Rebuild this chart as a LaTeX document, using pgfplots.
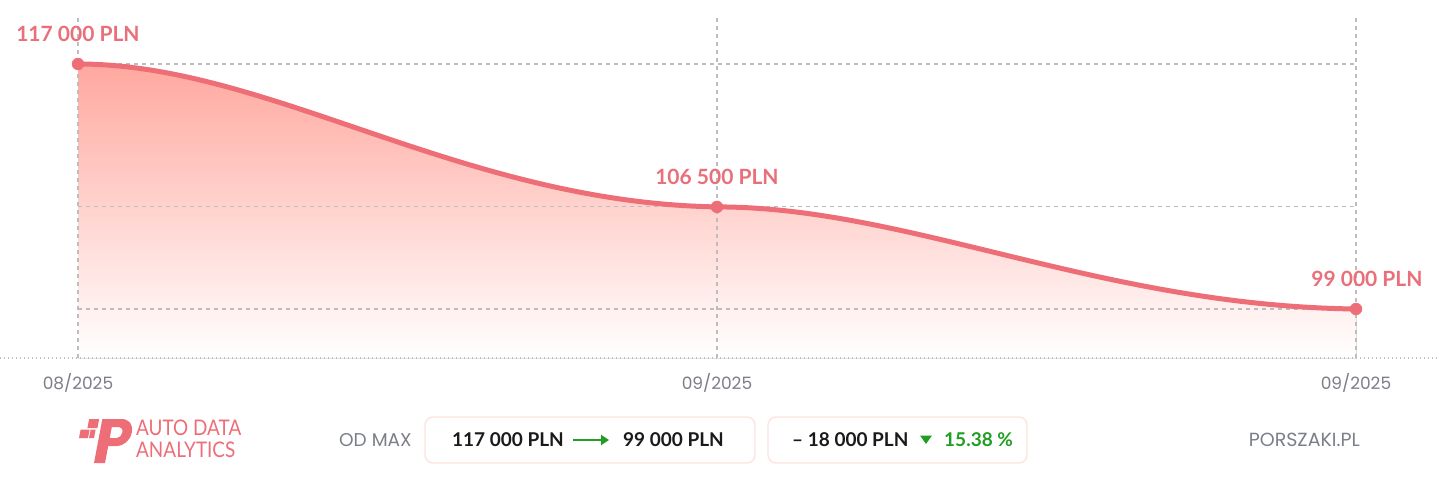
\documentclass[border=0pt]{standalone}
\usepackage{pgfplots}
\pgfplotsset{compat=1.18}
\usepackage{pgfplotstable}
\usetikzlibrary{arrows.meta,calc}
\usepackage{fontspec}
\setmainfont{Lato}
\newfontfamily\pop{Poppins}
\definecolor{lc}{HTML}{EE6E78}
\definecolor{labc}{HTML}{E9707A}
\definecolor{fillc}{HTML}{FFA89F}
\definecolor{gridc}{HTML}{BDBDBD}
\definecolor{tickc}{HTML}{7C7F8A}
\definecolor{boxc}{HTML}{FBE2DF}
\definecolor{grn}{HTML}{1F9E22}
\definecolor{txt}{HTML}{1A1A1A}
\pgfdeclarelayer{bgw}
\pgfdeclarelayer{bg}
\pgfsetlayers{bgw,bg,main}

\pgfplotstableread{
x y
0 117000
1 106500
2 99000
}\pricedata

\begin{document}
\begin{tikzpicture}[x=1pt,y=1pt]
\begin{pgfonlayer}{bgw}
\fill[white] (0,0) rectangle (1440,496);
\end{pgfonlayer}
\begin{axis}[
  name=ax,
  at={(78pt,138pt)}, anchor=south west,
  scale only axis, width=1278pt, height=343pt,
  xmin=0, xmax=2, ymin=95400, ymax=120600,
  clip=false,
  axis line style={draw=none},
  major tick length=0pt,
  scaled y ticks=false,
  xtick={0,1,2},
  xticklabels={08/2025,09/2025,09/2025},
  ytick=\empty,
  xticklabel style={font=\pop\fontsize{17}{17}\selectfont, text=tickc, anchor=center, yshift=-25pt},
  grd/.style={gridc, line width=1.1pt, dash pattern=on 4pt off 4pt, forget plot},
]
% grid
\addplot[grd] coordinates {(0,117000) (2,117000)};
\addplot[grd] coordinates {(0,106500) (2,106500)};
\addplot[grd] coordinates {(0,99000) (2,99000)};
\addplot[grd] coordinates {(0,95400) (0,120600)};
\addplot[grd] coordinates {(1,95400) (1,120600)};
\addplot[grd] coordinates {(2,95400) (2,120600)};
% anchor points of the data (named for the curve)
\addplot[draw=none, mark=none, nodes near coords={},
  every node near coord/.append style={name=pt\coordindex, anchor=center, inner sep=0pt, minimum size=0pt, yshift=0pt}]
  table[x=x,y=y] {\pricedata};
\addplot[only marks, mark=*, mark size=6pt, lc,
  nodes near coords, point meta=explicit symbolic,
  every node near coord/.append style={anchor=center, yshift=30pt, text=labc, font=\fontsize{21}{21}\selectfont\bfseries}]
  coordinates {(0,117000) [117 000 PLN] (1,106500) [106 500 PLN]};
\addplot[only marks, mark=*, mark size=6pt, lc,
  nodes near coords, point meta=explicit symbolic,
  every node near coord/.append style={anchor=center, yshift=30pt, xshift=11pt, text=labc, font=\fontsize{21}{21}\selectfont\bfseries}]
  coordinates {(2,99000) [99 000 PLN]};
\end{axis}
% curve through the plotted data points
\coordinate (a0) at ($(pt0.center)!.3!(pt1.center)$);
\coordinate (b0) at ($(pt0.center)!.6!(pt1.center)$);
\coordinate (c0) at ($(pt0.center)!.97!(pt1.center)$);
\coordinate (a1) at ($(pt1.center)!.3!(pt2.center)$);
\coordinate (b1) at ($(pt1.center)!.6!(pt2.center)$);
\coordinate (c1) at ($(pt1.center)!.97!(pt2.center)$);
\def\curvepath{(pt0.center) .. controls (a0 |- pt0.center) and (b0 |- c0) .. (pt1.center)
  .. controls (a1 |- pt1.center) and (b1 |- c1) .. (pt2.center)}
\begin{pgfonlayer}{bg}
\fill[top color=fillc, bottom color=white]
  \curvepath -- (pt2.center |- ax.south) -- (pt0.center |- ax.south) -- cycle;
\end{pgfonlayer}
\draw[lc, line width=5pt] \curvepath;
% dotted baseline
\draw[gridc, line width=1.3pt, dash pattern=on 1.3pt off 2.7pt] (0,138) -- (1440,138);
% logo
\begin{scope}[shift={(94,33)}, xslant=0.19]
\fill[lc, even odd rule] (0,0) -- (11,0) -- (11,17) -- (19,17) .. controls (27,17) and (32,23) .. (32,30.5) .. controls (32,38.5) and (27,44) .. (19,44) -- (0,44) -- cycle
  (11,25) -- (18,25) .. controls (21,25) and (22.5,27.5) .. (22.5,30.5) .. controls (22.5,33.5) and (21,36) .. (18,36) -- (11,36) -- cycle;
\end{scope}
\begin{scope}[xslant=0.19]
\fill[lc] (87-12.5,68) rectangle ++(10,9);
\fill[lc] (79-11,58) rectangle ++(9,8.5);
\fill[lc] (89-11,58) rectangle ++(5,8.5);
\end{scope}
\node[anchor=west, inner sep=0, text=lc, font=\fontsize{21.5}{21.5}\selectfont, xscale=0.88] at (136,68) {AUTO DATA};
\node[anchor=west, inner sep=0, text=lc, font=\fontsize{21.5}{21.5}\selectfont, xscale=0.88] at (136,46) {ANALYTICS};
% OD MAX
\node[anchor=west, inner sep=0, text=tickc, font=\pop\fontsize{18.5}{18.5}\selectfont] at (339,56) {OD MAX};
% boxes
\draw[boxc, line width=1.3pt, rounded corners=8pt] (425,33) rectangle (755,79);
\draw[boxc, line width=1.3pt, rounded corners=8pt] (768,33) rectangle (1027,79);
\node[anchor=west, inner sep=0, text=txt, font=\fontsize{19}{19}\selectfont\bfseries] at (452,56) {117 000 PLN};
\draw[grn, line width=2.2pt, -{Triangle[length=8pt,width=10pt]}] (573,56) -- (609,56);
\node[anchor=west, inner sep=0, text=txt, font=\fontsize{19}{19}\selectfont\bfseries] at (623,56) {99 000 PLN};
\node[anchor=west, inner sep=0, text=txt, font=\fontsize{19}{19}\selectfont\bfseries] at (792,56) {– 18 000 PLN};
\fill[grn] (920,60.5) -- (932,60.5) -- (926,52) -- cycle;
\node[anchor=west, inner sep=0, text=grn, font=\fontsize{19}{19}\selectfont\bfseries] at (944,56) {15.38 \%};
% site
\node[anchor=east, inner sep=0, text=tickc, font=\pop\fontsize{19}{19}\selectfont] at (1360,56) {PORSZAKI.PL};
\pgfresetboundingbox
\path (0,0) rectangle (1440,496);
\end{tikzpicture}
\end{document}
